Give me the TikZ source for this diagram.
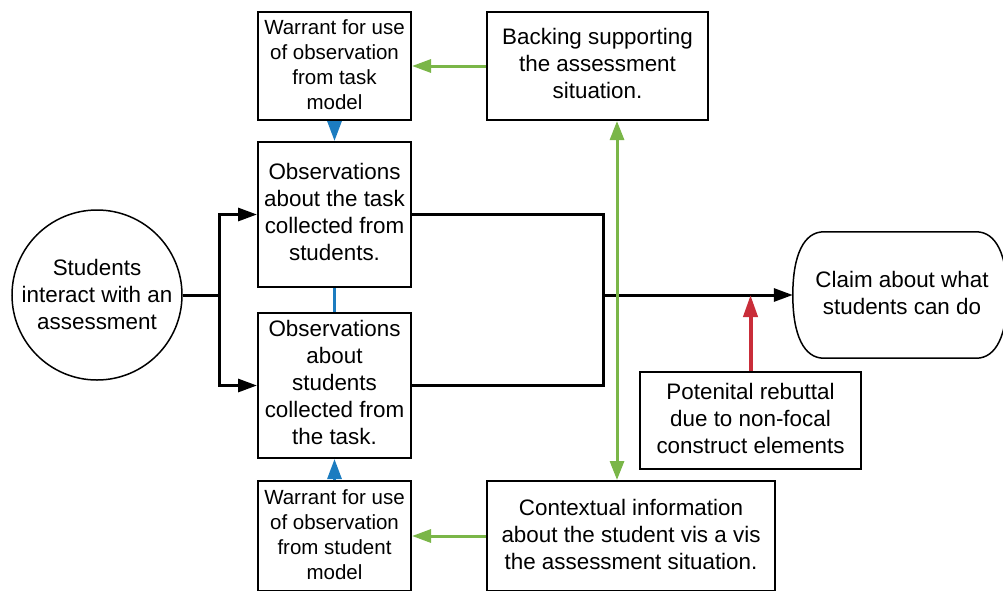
\documentclass[tikz,border=0pt]{standalone}
\usepackage{fontspec}
\setmainfont{Liberation Sans}
\usetikzlibrary{arrows.meta}

\definecolor{lgreen}{HTML}{7AB648}
\definecolor{lblue}{HTML}{1C7CC0}
\definecolor{lred}{HTML}{C92D39}

\newcommand{\bigtxt}{\fontsize{22.4}{27}\selectfont}
\newcommand{\smtxt}{\fontsize{20.5}{25}\selectfont}
% extra depth below the last line, lifts the text block a little
\newcommand{\lift}[1]{\rule[-#1]{0pt}{0pt}}

\tikzset{
  box/.style={draw=black, line width=2pt, fill=white, rectangle, align=center,
    inner sep=0pt, font=\bigtxt},
  warrant/.style={box, font=\smtxt, minimum width=153pt},
  startnode/.style={draw=black, line width=1.5pt, circle, minimum size=170pt,
    inner sep=0pt, align=center, font=\bigtxt},
  claimnode/.style={rectangle, minimum width=214pt, minimum height=126pt,
    inner sep=0pt, align=center, font=\bigtxt},
  tip/.style={-{Triangle[length=19pt,width=13pt]}},
  blk/.style={draw=black, line width=3pt},
  grn/.style={draw=lgreen, line width=3pt},
  blu/.style={draw=lblue, line width=3pt},
  rdl/.style={draw=lred, line width=4pt},
}

\begin{document}
\begin{tikzpicture}[x=1pt,y=-1pt]
\useasboundingbox (0,0) rectangle (1003,590);

% nodes
\node[startnode] (stu) at (97,295) {Students\\interact with an\\assessment\lift{2pt}};

\node[warrant, minimum height=108pt] (wt) at (334.5,66)
  {Warrant for use\\of observation\\from task\\model\lift{3pt}};
\node[box, minimum width=221pt, minimum height=108pt] (back) at (597.5,66)
  {Backing supporting\\the assessment\\situation.\lift{6pt}};

\node[box, minimum width=153pt, minimum height=145pt] (otask) at (334.5,214.5)
  {Observations\\about the task\\collected from\\students.\lift{6pt}};
\node[box, minimum width=153pt, minimum height=145pt] (ostu) at (334.5,385.5)
  {Observations\\about\\students\\collected from\\the task.\lift{6pt}};

\node[warrant, minimum height=110pt] (ws) at (334.5,536)
  {Warrant for use\\of observation\\from student\\model\lift{3pt}};
\node[box, minimum width=288pt, minimum height=110pt] (ctx) at (631,536)
  {Contextual information\\about the student vis a vis\\the assessment situation.\lift{4pt}};

\node[box, minimum width=221pt, minimum height=97pt] (reb) at (750.5,420.5)
  {Potenital rebuttal\\due to non-focal\\construct elements\lift{5pt}};

\node[claimnode] (claim) at (900,295) {\hspace*{4pt}Claim about what\\\hspace*{4pt}students can do\lift{4pt}};
% terminator outline of the claim: rounded ends joined by straight edges
\draw[line width=1.5pt]
  ([xshift=31pt]claim.north west)
    .. controls +(-20pt,0pt) and +(0pt,40pt) .. (claim.west)
    .. controls +(0pt,-40pt) and +(-20pt,0pt) .. ([xshift=31pt]claim.south west)
  -- ([xshift=-31pt]claim.south east)
    .. controls +(20pt,0pt) and +(0pt,-40pt) .. (claim.east)
    .. controls +(0pt,40pt) and +(20pt,0pt) .. ([xshift=-31pt]claim.north east)
  -- cycle;

% branch and junction points of the main argument line
\coordinate (split) at (219,295);
\coordinate (join) at (603,295);
\coordinate (gx) at (617,0);

% main (black) argument flow
\draw[blk] (stu.east) -- (split);
\draw[blk, tip] (split) |- (otask.west);
\draw[blk, tip] (split) |- (ostu.west);
\draw[blk] (otask.east) -| (join) |- (ostu.east);
\draw[blk, tip] (join) -- (claim.west);

% warrants (blue)
\draw[blu, -{Triangle[length=20pt,width=14pt]}] (wt.south) -- (otask.north);
\draw[blu] (otask.south) -- (ostu.north);
\draw[blu, -{Triangle[length=20pt,width=14pt]}] (ws.north) -- (ostu.south);

% backing and context (green)
\draw[grn, tip] (back.west) -- (wt.east);
\draw[grn, tip] (ctx.west) -- (ws.east);
\draw[grn, {Triangle[length=19pt,width=14pt]}-{Triangle[length=19pt,width=14pt]}]
  (back.south -| gx) -- (ctx.north -| gx);

% rebuttal (red)
\draw[rdl, -{Triangle[length=22pt,width=14pt]}] (reb.north) -- (reb.north |- join);
\end{tikzpicture}
\end{document}
